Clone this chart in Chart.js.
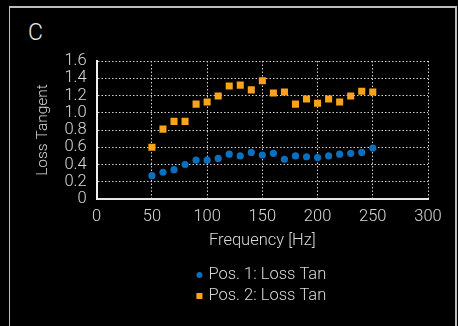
<!DOCTYPE html>
<html>
<head>
<meta charset="utf-8">
<script src="https://cdn.jsdelivr.net/npm/chart.js@4"></script>
<style>
  html, body { margin: 0; padding: 0; background: #000; overflow: hidden; }
  #wrap { position: relative; width: 458px; height: 326px; background: #000; }
  #frame {
    position: absolute; left: 9px; top: 6px; width: 445px; height: 340px;
    border-style: solid; border-color: #bdbdbd; border-width: 2px 2px 0 1px;
    box-sizing: content-box;
  }
  #panel {
    position: absolute; left: 28px; top: 20px;
    font-family: Roboto, "Liberation Sans", sans-serif; font-weight: 300;
    font-size: 23px; color: #e8e8e8; line-height: 26px;
  }
  canvas { position: absolute; left: 0; top: 0; }
</style>
</head>
<body>
<div id="wrap">
  <div id="frame"></div>
  <div id="panel">C</div>
  <canvas id="chart" width="458" height="326"></canvas>
</div>
<script>
// Frequency sweep (Hz) and measured loss tangent at two positions
const frequencies = [50, 60, 70, 80, 90, 100, 110, 120, 130, 140, 150, 160, 170, 180, 190, 200, 210, 220, 230, 240, 250];
const pos1LossTan = [0.27, 0.31, 0.34, 0.40, 0.45, 0.45, 0.47, 0.52, 0.50, 0.54, 0.51, 0.53, 0.46, 0.50, 0.49, 0.48, 0.50, 0.52, 0.53, 0.54, 0.59];
const pos2LossTan = [0.60, 0.81, 0.90, 0.90, 1.10, 1.125, 1.195, 1.31, 1.32, 1.265, 1.37, 1.23, 1.24, 1.10, 1.16, 1.11, 1.16, 1.125, 1.195, 1.25, 1.24];
const seriesNames = ['Pos. 1: Loss Tan', 'Pos. 2: Loss Tan'];
const xTicks = [0, 50, 100, 150, 200, 250, 300];
const yTicks = [0, 0.2, 0.4, 0.6, 0.8, 1.0, 1.2, 1.4, 1.6];

const FONT = 'Roboto, "Liberation Sans", sans-serif';
const TEXT = '#d9d9d9';
const BLUE = '#0a6fbd';
const ORANGE = '#f9a21c';

const toPoints = (xs, ys) => xs.map((x, i) => ({ x, y: ys[i] }));

// Legend stacked in a column under the x-axis title
const stackedLegend = {
  id: 'stackedLegend',
  afterDraw(chart) {
    const { ctx, chartArea } = chart;
    ctx.save();
    ctx.font = '300 16.5px ' + FONT;
    ctx.textBaseline = 'middle';
    ctx.textAlign = 'left';
    const widths = chart.data.datasets.map(d => ctx.measureText(d.label).width);
    const blockW = 12 + Math.max(...widths);
    const left = (chartArea.left + chartArea.right) / 2 - 1 - blockW / 2;
    chart.data.datasets.forEach((ds, i) => {
      const y = chartArea.bottom + 76 + i * 21;
      ctx.fillStyle = ds.backgroundColor;
      Chart.helpers.drawPoint(ctx, {
        pointStyle: ds.pointStyle,
        radius: ds.pointStyle === 'rect' ? 4.3 : 3,
        rotation: 0,
        borderWidth: 0
      }, left + 3, y);
      ctx.fillStyle = TEXT;
      ctx.fillText(ds.label, left + 12, y);
    });
    ctx.restore();
  }
};

const dottedGrid = {
  color: '#d0d0d0',
  lineWidth: 1,
  drawTicks: false
};

new Chart(document.getElementById('chart'), {
  type: 'scatter',
  data: {
    datasets: [
      {
        label: seriesNames[0],
        data: toPoints(frequencies, pos1LossTan),
        pointStyle: 'circle',
        pointRadius: 3.6,
        backgroundColor: BLUE,
        borderColor: BLUE,
        borderWidth: 0,
        showLine: false
      },
      {
        label: seriesNames[1],
        data: toPoints(frequencies, pos2LossTan),
        pointStyle: 'rect',
        pointRadius: 5,
        backgroundColor: ORANGE,
        borderColor: ORANGE,
        borderWidth: 0,
        showLine: false
      }
    ]
  },
  options: {
    responsive: false,
    devicePixelRatio: 1,
    animation: false,
    layout: { padding: { left: 34, right: 30, top: 61, bottom: 72 } },
    plugins: {
      legend: { display: false },
      tooltip: { enabled: false }
    },
    scales: {
      x: {
        type: 'linear',
        min: 0,
        max: 300,
        afterFit: s => { s.height = 55; },
        afterBuildTicks: s => { s.ticks = xTicks.map(v => ({ value: v })); },
        grid: dottedGrid,
        border: { display: true, color: '#e6e6e6', width: 2, dash: [1.5, 2] },
        ticks: {
          color: TEXT, padding: 8, autoSkip: false,
          font: { family: FONT, size: 16.5, weight: '300' },
          maxRotation: 0
        },
        title: {
          display: true, text: 'Frequency [Hz]', color: TEXT,
          font: { family: FONT, size: 16.5, weight: '300' },
          padding: { top: 0, bottom: 3 }
        }
      },
      y: {
        min: 0,
        max: 1.6,
        afterFit: s => { s.width = 62.7; },
        afterBuildTicks: s => { s.ticks = yTicks.map(v => ({ value: v })); },
        grid: dottedGrid,
        border: { display: true, color: '#f0f0f0', width: 2, dash: [1.5, 2] },
        ticks: {
          color: TEXT, padding: 10, autoSkip: false,
          font: { family: FONT, size: 16.5, weight: '300' },
          callback: v => (v === 0 ? '0' : v.toFixed(1))
        },
        title: {
          display: true, text: 'Loss Tangent', color: TEXT,
          font: { family: FONT, size: 15.5, weight: '300' },
          padding: { top: 0, bottom: 0 }
        }
      }
    }
  },
  plugins: [stackedLegend]
});
</script>
</body>
</html>
